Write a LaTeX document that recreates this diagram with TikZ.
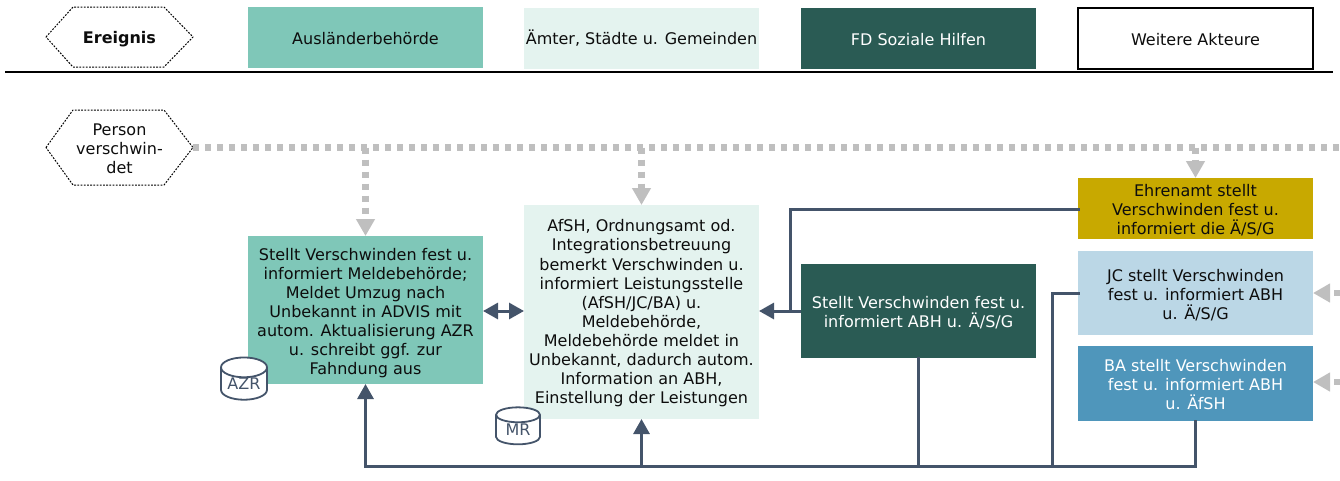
\documentclass[tikz,border=0pt]{standalone}
\usepackage{fontspec}
\setmainfont{DejaVu Sans}
\usetikzlibrary{arrows.meta,shapes.geometric,calc}
\definecolor{teal1}{HTML}{7FC7B8}
\definecolor{mint1}{HTML}{E4F3EF}
\definecolor{dark1}{HTML}{2A5B54}
\definecolor{gold1}{HTML}{C8A900}
\definecolor{lblue}{HTML}{BBD7E6}
\definecolor{mblue}{HTML}{4F96BB}
\definecolor{slate1}{HTML}{44546A}
\definecolor{grey1}{HTML}{BFBFBF}
\newcommand{\hexoutline}[1]{\draw[hexline] (#1.west) -- ($(#1.north west)+(27,0)$) -- ($(#1.north east)+(-29,0)$) -- (#1.east) -- ($(#1.south east)+(-29,0)$) -- ($(#1.south west)+(27,0)$) -- cycle;}
\newcommand{\st}[1]{\rule{0pt}{#1pt}\ignorespaces}
\tikzset{
  x=1pt,y=-1pt,
  boxn/.style={rectangle,inner sep=0pt,outer sep=0pt,minimum width=235pt,align=center,font=\fontsize{16}{19.1}\selectfont,text=black!95},
  hexn/.style={rectangle,inner sep=0pt,outer sep=0pt,minimum width=147pt,align=center,font=\fontsize{16}{19.1}\selectfont,text=black!95},
  hexline/.style={draw=black,dash pattern=on 1.8pt off 1.4pt,line width=1pt},
  dotl/.style={draw=grey1,line width=6.5pt,dash pattern=on 6pt off 6pt},
  dota/.style={dotl,-{Triangle[length=17pt,width=18pt,fill=grey1]}},
  flow/.style={draw=slate1,line width=3pt,line cap=rect},
  flowa/.style={draw=slate1,line width=3pt,-{Triangle[length=15pt,width=16pt,fill=slate1]}},
  flowb/.style={draw=slate1,line width=3pt,{Triangle[length=15pt,width=16pt,fill=slate1]}-{Triangle[length=15pt,width=16pt,fill=slate1]}},
  dbn/.style={cylinder,shape border rotate=90,aspect=0.6,draw=slate1,line width=1.8pt,fill=white,inner sep=0pt,outer sep=0pt,text=slate1,font=\fontsize{16}{18}\selectfont},
}
\begin{document}
\begin{tikzpicture}
\useasboundingbox (0,0) rectangle (1340,480);
% legend
\node[hexn,minimum height=60pt,font=\fontsize{16}{19.1}\selectfont\bfseries] (h0) at (119.5,37) {\st{15.5}Ereignis};
\hexoutline{h0}
\node[boxn,fill=teal1,minimum height=61pt] (l1) at (365.5,37.5) {\st{14}Ausländerbehörde};
\node[boxn,fill=mint1,minimum height=61pt] (l2) at (641.5,38.5) {\st{14}Ämter, Städte u. Gemeinden};
\node[boxn,fill=dark1,text=white,minimum height=61pt] (l3) at (918.5,38.5) {\st{14}FD Soziale Hilfen};
\node[boxn,draw=black,line width=2pt,fill=white,minimum height=61pt] (l4) at (1195.5,38.5) {\st{14}Weitere Akteure};
\coordinate (rl) at (5,72); \coordinate (rr) at (1333,72);
\draw[black,line width=1.6pt] (rl) -- (rr);
% boxes
\node[hexn,minimum height=75pt] (h1) at (119.5,147.5) {\st{14}Person\\verschwin-\\det};
\hexoutline{h1}
\node[boxn,fill=teal1,minimum height=148pt] (a) at (365.5,310) {\st{18}Stellt Verschwinden fest u.\\informiert Meldebehörde;\\Meldet Umzug nach\\Unbekannt in ADVIS mit\\autom. Aktualisierung AZR\\u. schreibt ggf. zur\\Fahndung aus};
\node[boxn,fill=mint1,minimum height=214pt] (b) at (641.5,312) {\st{15}AfSH, Ordnungsamt od.\\Integrationsbetreuung\\bemerkt Verschwinden u.\\informiert Leistungsstelle\\(AfSH/JC/BA) u.\\Meldebehörde,\\Meldebehörde meldet in\\Unbekannt, dadurch autom.\\Information an ABH,\\Einstellung der Leistungen};
\node[boxn,fill=dark1,text=white,minimum height=94pt] (c) at (918.5,311) {\st{16}Stellt Verschwinden fest u.\\informiert ABH u. Ä/S/G};
\node[boxn,fill=gold1,minimum height=61pt] (e) at (1195.5,208.5) {\st{15}Ehrenamt stellt\\Verschwinden fest u.\\informiert die Ä/S/G};
\node[boxn,fill=lblue,minimum height=84pt] (j) at (1195.5,293) {\st{16}JC stellt Verschwinden\\fest u. informiert ABH\\u. Ä/S/G};
\node[boxn,fill=mblue,text=white,minimum height=75pt] (k) at (1195.5,383.5) {\st{15}BA stellt Verschwinden\\fest u. informiert ABH\\u. ÄfSH};
\node[dbn,minimum width=46pt,minimum height=36pt] (azr) at (244,384) {AZR};
\node[dbn,minimum width=44pt,minimum height=37pt] (mr) at (518,430) {MR};
% free ends
\coordinate (dr) at (1340,147.5);
\coordinate (jr) at (1340,293);
\coordinate (kr) at (1340,382);
\coordinate (j1) at (1052,293);
\coordinate (j2) at (1052,466);
\coordinate (e1) at (790,209);
\coordinate (bot) at (365.5,466);
\coordinate (bc) at (641.5,466);
\coordinate (cb) at (918.5,466);
\coordinate (kb) at (1195.5,466);
\coordinate (cl) at (759,311);
% dotted
\draw[dotl] (h1.east) -- (dr);
\draw[dota] (a.north |- dr) -- (a.north);
\draw[dota] (b.north |- dr) -- (b.north);
\draw[dota] (e.north |- dr) -- (e.north);
\draw[dota] (jr) -- (j.east);
\draw[dota] (kr) -- (k.east |- kr);
% solid
\draw[flowa] (c.west) -- (b.east |- c.west);
\draw[flow] (e.west |- e1) -- (e1);
\draw[flow] (e1) -- (e1 |- c.west);
\draw[flowb] (a.east |- cl) -- (b.west |- cl);
\draw[flow] (k.south) -- (kb);
\draw[flow] (kb) -- (bot);
\draw[flowa] (bot) -- (a.south);
\draw[flowa] (bc) -- (b.south);
\draw[flow] (c.south) -- (cb);
\draw[flow] (j.west) -- (j1);
\draw[flow] (j1) -- (j2);
\end{tikzpicture}
\end{document}
